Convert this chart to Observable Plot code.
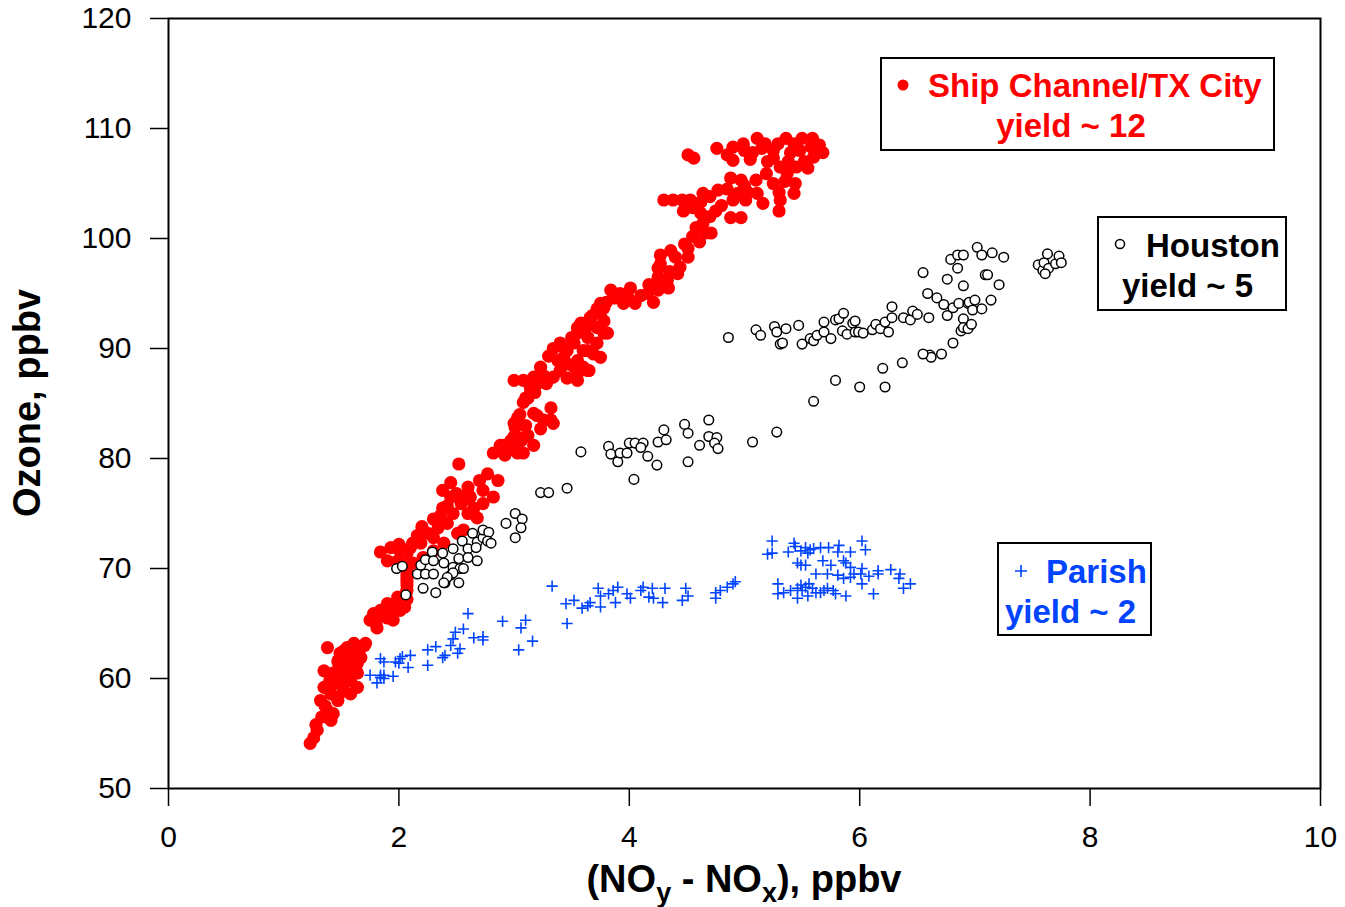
<!DOCTYPE html>
<html>
<head>
<meta charset="utf-8">
<script src="https://cdn.jsdelivr.net/npm/d3@7"></script>
<script src="https://cdn.jsdelivr.net/npm/@observablehq/plot@0.6"></script>
<style>
  html, body { margin: 0; padding: 0; background: #fff; }
  #chart { width: 1345px; height: 907px; }
</style>
</head>
<body>
<div id="chart"></div>
<script>
// ---- Data ----
const xTicks = [0, 2, 4, 6, 8, 10];
const yTicks = [50, 60, 70, 80, 90, 100, 110, 120];

// Ship Channel/TX City : [NOy-NOx (ppbv), Ozone (ppbv)]
const shipChannel = [
  [4.51,107.6],[4.56,107.3],[4.76,108.2],[4.90,108.3],[4.99,108.6],[5.11,109.1],[5.18,108.6],[5.29,108.6],
  [5.36,109.1],[5.43,108.6],[5.50,109.1],[5.59,109.1],[5.68,107.8],[5.60,107.4],[5.55,106.4],[4.90,107.1],
  [5.07,107.8],[5.25,107.3],[5.31,106.5],[5.37,105.9],[5.44,105.0],[5.43,104.1],[5.30,104.2],[5.31,103.5],
  [5.30,102.5],[5.19,105.9],[4.88,105.5],[4.97,105.3],[5.03,104.2],[5.11,104.1],[5.16,103.2],[5.01,103.5],
  [4.94,104.1],[4.90,103.5],[4.88,101.9],[4.97,101.9],[4.77,104.4],[4.75,102.5],[4.64,104.1],[4.62,103.3],
  [4.53,103.5],[4.46,103.5],[4.38,103.5],[4.30,103.5],[4.47,102.5],[4.62,102.3],[4.64,101.4],[4.66,100.5],
  [4.71,100.5],[4.61,99.7],[4.51,99.1],[4.36,98.9],[4.27,98.5],[4.27,97.7],[4.51,98.3],[4.44,97.4],
  [4.42,96.8],[4.25,97.3],[4.25,96.5],[4.33,96.2],[4.34,95.5],[4.23,95.5],[4.25,95.3],[4.16,95.0],
  [4.21,94.2],[4.01,95.5],[3.99,94.6],[4.05,94.1],[3.95,94.1],[3.86,94.6],[3.84,95.3],[3.78,93.7],
  [3.75,93.2],[3.72,91.9],[3.66,92.7],[3.58,92.3],[3.55,91.4],[3.64,91.0],[3.78,91.4],[3.72,90.5],
  [3.64,89.8],[3.52,90.5],[3.46,89.8],[3.34,90.0],[3.38,88.9],[3.46,88.6],[3.55,88.9],[3.64,88.0],
  [3.55,87.7],[3.46,87.3],[3.34,87.4],[3.26,87.5],[3.23,88.3],[3.17,87.4],[3.08,87.1],[3.00,87.1],
  [3.14,86.5],[3.10,85.5],[3.75,89.2],[3.88,94.6],[3.75,94.1],[3.72,93.6],[3.66,92.8],[3.78,92.5],
  [3.55,91.9],[3.81,91.4],[3.40,90.5],[3.43,89.2],[3.60,89.8],[3.69,89.5],[3.52,88.3],[3.60,88.3],
  [3.65,88.0],[3.55,87.1],[3.29,87.1],[3.20,86.8],[3.12,85.5],[3.08,85.1],[3.32,84.6],[3.20,83.9],
  [3.03,83.7],[3.00,83.2],[3.32,83.5],[3.34,83.2],[3.23,82.7],[3.12,82.1],[3.06,81.6],[2.97,81.6],
  [2.88,81.2],[2.94,80.7],[3.03,80.5],[3.08,80.5],[3.17,81.2],[2.82,80.5],[2.52,79.5],[2.77,78.6],
  [2.86,78.0],[2.45,77.8],[2.38,77.1],[2.45,76.5],[2.60,77.4],[2.62,76.5],[2.73,77.1],[2.82,76.5],
  [2.73,75.9],[2.65,75.5],[2.56,76.2],[2.42,75.7],[2.47,75.0],[2.60,75.0],[2.68,74.6],[3.14,85.9],
  [3.17,84.1],[3.26,83.5],[3.01,82.8],[3.08,81.9],[2.91,81.2],[2.54,75.9],[2.36,74.8],[2.42,74.1],
  [2.34,73.7],[2.25,73.2],[2.16,73.0],[2.19,72.3],[2.10,71.9],[2.01,71.6],[1.93,71.9],[1.84,71.5],
  [1.90,70.7],[1.99,70.7],[2.07,71.4],[2.12,70.5],[2.21,71.0],[2.30,71.6],[2.39,72.3],[2.51,73.2],
  [2.56,73.5],[2.07,70.3],[2.07,69.4],[2.07,68.5],[2.06,67.7],[2.07,69.1],[1.99,67.1],[1.90,66.8],
  [1.84,66.2],[1.78,65.9],[1.75,65.3],[1.81,64.6],[1.90,65.5],[1.95,65.3],[1.93,66.2],[2.01,66.2],
  [1.99,67.4],[1.38,62.8],[1.47,61.6],[1.35,60.7],[1.43,60.5],[1.52,61.0],[1.58,62.3],[1.67,62.8],
  [1.71,63.2],[1.61,63.2],[1.55,62.8],[1.49,62.3],[1.64,61.4],[1.58,59.8],[1.52,58.9],[1.47,58.3],
  [1.41,58.6],[1.35,59.2],[1.32,58.0],[1.38,57.1],[1.43,56.8],[1.41,56.2],[1.29,55.3],[1.26,54.6],
  [1.23,54.1],[1.47,58.0],[1.64,60.5],[1.52,60.1],[1.43,59.5],[1.58,58.6],[1.64,59.2],[1.67,61.9],
  [1.52,62.5],
  [5.00,108.0],[5.15,108.2],[5.25,108.0],[5.40,107.8],[5.48,108.0],[5.52,107.0],[5.38,107.0],[5.20,107.0],
  [5.05,107.2],[4.85,107.6],[5.58,108.3],[5.65,108.5],[5.45,106.5],[5.35,105.2],[5.25,105.0],[5.10,105.3],
  [5.00,104.8],[4.85,104.5],[4.70,103.8],[4.55,102.8],[4.80,103.0],[4.70,102.0],[4.58,101.0],[4.55,100.2],
  [4.48,99.5],[4.40,98.3],[4.35,97.0],[4.30,96.0],[4.17,95.8],[4.10,94.8],[3.92,95.0],[3.80,94.2],
  [3.68,93.0],[3.62,91.8],[3.50,91.0],[3.42,90.2],[3.30,89.3],[3.40,88.0],[3.28,86.8],[3.18,86.0],
  [3.05,84.0],[3.10,83.0],[3.00,82.0],[2.92,80.3],[2.98,80.9],[2.70,78.0],[2.60,76.8],[2.50,76.8],
  [2.38,75.5],[2.30,74.5],[2.20,73.8],[2.30,72.8],[2.12,72.3],[2.00,72.2],
  [1.70,63.0],[1.62,62.0],[1.55,61.5],[1.45,60.0],[1.50,59.5],[1.40,59.8],[1.55,60.3],[1.36,57.5],
  [1.33,56.5],[1.28,55.8],[1.60,60.8],[1.48,61.2],[1.85,65.8],[1.95,66.5],[1.80,65.0],[2.03,67.0],
  [2.05,66.5],[2.07,68.0],[2.07,68.8],[2.07,69.8],[2.07,67.2]
];

// Houston
const houston = [
  [1.98,70.0],[2.03,70.2],[2.06,67.6],[2.21,68.2],[2.32,67.8],[2.16,69.5],[2.23,69.5],[2.30,69.5],
  [2.19,70.3],[2.23,70.8],[2.29,71.5],[2.30,70.7],[2.38,71.4],[2.39,70.5],[2.40,68.7],[2.45,69.4],
  [2.47,70.1],[2.47,71.8],[2.52,70.9],[2.53,70.0],[2.52,68.7],[2.55,72.5],[2.60,71.8],[2.60,71.0],
  [2.64,73.2],[2.68,72.4],[2.68,70.7],[2.67,71.9],[2.73,72.8],[2.73,73.5],[2.78,73.3],[2.77,72.5],
  [2.80,72.3],[2.56,70.0],[2.47,69.6],[2.42,69.2],[2.39,68.7],[2.93,74.1],[3.01,75.0],[3.07,74.5],
  [3.06,73.7],[3.01,72.8],[3.23,76.9],[3.30,76.9],[3.46,77.3],[3.58,80.6],[3.82,81.1],[3.84,80.4],
  [3.90,79.7],[3.92,80.5],[3.98,80.5],[4.00,81.4],[4.05,81.4],[4.12,81.4],[4.10,81.0],[4.16,80.2],
  [4.04,78.1],[4.24,79.4],[4.25,81.5],[4.30,82.6],[4.32,81.7],[4.48,83.1],[4.51,82.3],[4.51,79.7],
  [4.61,81.2],[4.69,83.5],[4.69,82.0],[4.76,81.9],[4.74,81.4],[4.77,80.9],[5.07,81.5],[5.28,82.4],
  [5.60,85.2],[4.86,91.0],[5.10,91.7],[5.14,91.2],[5.26,92.0],[5.28,91.5],[5.36,91.8],[5.31,90.4],
  [5.33,90.5],[5.47,92.1],[5.50,90.4],[5.57,90.9],[5.60,90.7],[5.63,91.2],[5.69,92.4],[5.69,91.5],
  [5.75,90.9],[5.79,92.6],[5.82,92.7],[5.86,93.2],[5.85,91.6],[5.89,91.3],[5.94,92.3],[5.96,92.5],
  [5.96,91.5],[5.99,91.5],[6.03,91.4],[6.11,91.7],[6.14,92.2],[6.18,91.8],[6.22,92.4],[6.25,91.5],
  [6.28,93.8],[6.28,92.8],[6.38,92.8],[6.44,92.6],[6.46,93.4],[6.50,93.1],[6.60,92.8],[6.55,96.9],
  [6.59,95.0],[6.67,94.6],[6.73,94.0],[6.76,96.3],[6.76,93.0],[6.81,93.7],[6.86,94.1],[6.90,92.7],
  [6.94,94.1],[6.95,94.2],[7.00,94.4],[6.98,93.5],[7.06,93.6],[7.14,94.4],[7.21,95.8],[7.09,96.7],
  [7.11,96.7],[6.90,95.7],[6.85,97.3],[6.79,98.1],[6.85,98.5],[6.90,98.5],[7.02,99.2],[7.06,98.5],
  [7.15,98.7],[7.25,98.3],[6.88,91.6],[6.90,91.9],[6.94,91.8],[6.97,92.2],[6.81,90.5],[6.71,89.5],
  [6.61,89.4],[6.62,89.2],[6.55,89.5],[6.37,88.7],[6.20,88.2],[6.22,86.5],[6.00,86.5],[5.79,87.1],
  [7.55,97.6],[7.59,97.1],[7.60,97.8],[7.63,98.6],[7.64,97.3],[7.61,96.8],[7.70,97.7],[7.73,98.4],
  [7.75,97.8]
];

// Parish
const parish = [
  [1.75,60.3],[1.84,60.3],[1.87,60.3],[1.95,60.2],[1.84,61.8],[1.87,61.5],[1.97,61.5],[2.01,61.8],
  [2.03,62.0],[2.10,62.1],[2.08,61.0],[2.25,62.6],[2.32,62.9],[2.25,61.2],[2.38,61.9],[2.40,62.1],
  [2.45,63.0],[2.51,62.3],[2.47,63.6],[2.49,64.2],[2.53,62.7],[2.56,64.5],[2.60,65.9],[2.65,63.7],
  [2.73,63.8],[2.73,63.5],[2.90,65.2],[3.04,62.6],[3.06,64.6],[3.10,65.3],[3.16,63.4],[3.33,68.4],
  [3.46,65.0],[3.45,66.8],[3.52,67.1],[3.59,66.4],[3.64,66.6],[3.66,66.9],[3.73,68.2],[3.75,67.5],
  [3.75,66.5],[3.82,67.7],[3.86,68.0],[3.88,66.9],[3.90,68.3],[3.98,67.7],[4.01,67.3],[4.10,68.0],
  [4.12,68.3],[4.17,67.4],[4.21,67.3],[4.29,66.9],[4.31,68.2],[4.20,68.2],[1.81,59.6],[1.84,60.1],
  [1.87,60.0],[2.00,61.4],[4.49,68.2],[4.51,67.5],[4.46,67.1],[4.75,67.8],[4.75,67.3],[4.79,68.0],
  [4.85,68.3],[4.90,68.6],[4.92,68.8],[5.24,72.5],[5.20,71.3],[5.24,71.4],[5.43,72.3],[5.44,72.0],
  [5.38,71.5],[5.49,71.6],[5.53,71.9],[5.55,71.4],[5.57,71.7],[5.60,71.8],[5.66,71.9],[5.73,71.9],
  [5.82,72.1],[5.81,71.5],[5.92,71.5],[6.02,72.5],[6.05,71.7],[5.46,70.5],[5.49,70.3],[5.53,70.3],
  [5.68,70.7],[5.75,70.3],[5.86,70.7],[5.88,70.5],[5.92,70.1],[5.62,69.5],[5.72,69.5],[5.81,69.4],
  [5.86,69.1],[5.92,69.2],[5.95,69.5],[6.02,70.0],[6.01,69.5],[6.08,69.3],[6.16,69.8],[6.16,69.5],
  [6.27,69.9],[6.35,69.5],[6.34,69.1],[6.44,68.6],[6.38,68.2],[6.02,68.6],[6.12,67.7],[5.29,68.6],
  [5.29,67.7],[5.34,67.8],[5.40,68.0],[5.46,68.2],[5.49,68.5],[5.50,68.0],[5.53,68.3],[5.56,68.6],
  [5.59,68.2],[5.62,67.8],[5.66,67.8],[5.69,68.0],[5.72,68.2],[5.77,68.0],[5.79,67.7],[5.88,67.5],
  [5.46,67.3],[5.55,67.5]
];

// ---- Chart ----
const W = 1345, H = 907;
const M = {left: 168, right: 25, top: 18, bottom: 119};
const FONT = "'Liberation Sans', Arial, Helvetica, sans-serif";

const chart = Plot.plot({
  width: W,
  height: H,
  marginLeft: M.left,
  marginRight: M.right,
  marginTop: M.top,
  marginBottom: M.bottom,
  style: {fontFamily: FONT, fontSize: "30px", color: "black", background: "white", overflow: "visible"},
  x: {domain: [0, 10], ticks: xTicks, tickSize: 18, tickPadding: 19, label: null},
  y: {domain: [50, 120], ticks: yTicks, tickSize: 18, tickPadding: 19, label: null},
  marks: [
    Plot.frame({stroke: "black", strokeWidth: 2}),
    Plot.dot(shipChannel, {x: d => d[0], y: d => d[1], r: 6.6, fill: "#ff0000", stroke: "none"}),
    Plot.dot(houston, {x: d => d[0], y: d => d[1], r: 4.8, fill: "white", stroke: "black", strokeWidth: 1.5}),
    Plot.dot(parish, {x: d => d[0], y: d => d[1], r: 3.7, symbol: "plus", stroke: "#0044ff", strokeWidth: 1.6})
  ]
});
document.getElementById("chart").appendChild(chart);

const svg = d3.select(chart);
svg.selectAll("g[aria-label='x-axis tick'] path, g[aria-label='y-axis tick'] path").attr("stroke-width", 1.5);

// X-axis title with subscripts
const xt = svg.append("text")
  .attr("x", (M.left + (W - M.right)) / 2)
  .attr("y", 892)
  .attr("text-anchor", "middle")
  .attr("font-family", FONT)
  .attr("font-weight", "bold")
  .attr("font-size", 38)
  .attr("fill", "black");
xt.append("tspan").text("(NO");
xt.append("tspan").attr("dy", 10).attr("font-size", 27).text("y");
xt.append("tspan").attr("dy", -10).text(" - NO");
xt.append("tspan").attr("dy", 10).attr("font-size", 27).text("x");
xt.append("tspan").attr("dy", -10).text("), ppbv");

// Y-axis title
svg.append("text")
  .attr("transform", `translate(40, ${(M.top + (H - M.bottom)) / 2}) rotate(-90)`)
  .attr("text-anchor", "middle")
  .attr("font-family", FONT)
  .attr("font-weight", "bold")
  .attr("font-size", 38)
  .attr("fill", "black")
  .text("Ozone, ppbv");

// Legend boxes
function box(x, y, w, h) {
  svg.append("rect").attr("x", x).attr("y", y).attr("width", w).attr("height", h)
    .attr("fill", "white").attr("stroke", "black").attr("stroke-width", 2);
}
function label(x, y, txt, color, anchor) {
  svg.append("text").attr("x", x).attr("y", y).attr("text-anchor", anchor || "start")
    .attr("font-family", FONT).attr("font-weight", "bold").attr("font-size", 33)
    .attr("fill", color).text(txt);
}
// Ship Channel
box(881, 58, 393, 92);
svg.append("circle").attr("cx", 903).attr("cy", 85).attr("r", 5.5).attr("fill", "#ff0000");
label(928, 97, "Ship Channel/TX City", "#ff0000");
label(1071, 137, "yield ~ 12", "#ff0000", "middle");
// Houston
box(1098, 217, 188, 93);
svg.append("circle").attr("cx", 1120).attr("cy", 244).attr("r", 4.5).attr("fill", "white").attr("stroke", "black").attr("stroke-width", 1.5);
label(1146, 257, "Houston", "black");
label(1122, 297, "yield ~ 5", "black");
// Parish
box(998, 543, 153, 92);
svg.append("path").attr("d", "M1015,571H1027M1021,565V577").attr("stroke", "#0044ff").attr("stroke-width", 1.6);
label(1046, 583, "Parish", "#0044ff");
label(1005, 623, "yield ~ 2", "#0044ff");
</script>
</body>
</html>
